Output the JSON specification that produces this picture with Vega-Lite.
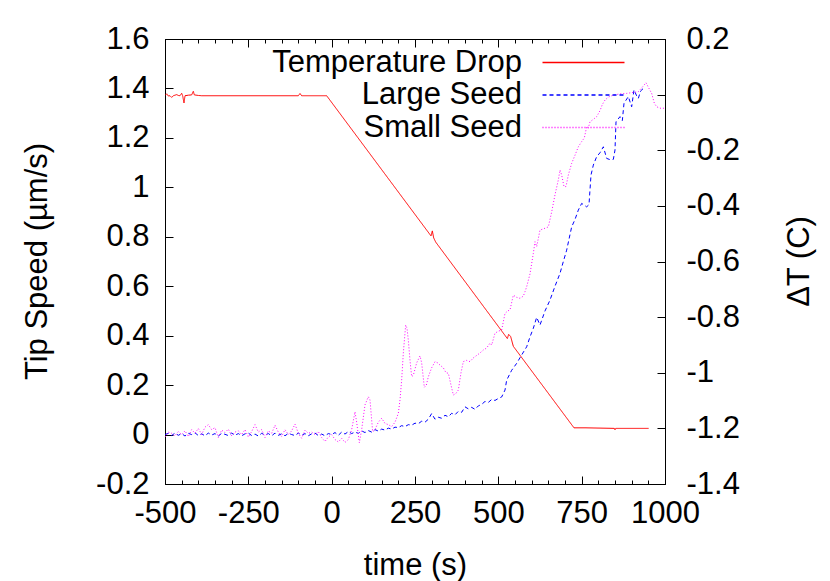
{
  "$schema": "https://vega.github.io/schema/vega-lite/v6.json",
  "width": 500,
  "height": 445,
  "autosize": {"type": "none"},
  "padding": {"left": 165, "top": 39, "right": 165, "bottom": 97},
  "background": "white",
  "config": {
    "font": "Liberation Sans",
    "view": {"stroke": "black", "strokeWidth": 1},
    "axis": {
      "grid": false,
      "domainColor": "black",
      "domainWidth": 1,
      "tickColor": "black",
      "tickWidth": 1,
      "labelFont": "Liberation Sans",
      "labelFontSize": 31,
      "labelColor": "black",
      "titleFont": "Liberation Sans",
      "titleFontSize": 31,
      "titleFontWeight": "normal",
      "titleColor": "black",
      "labelOverlap": false,
      "labelFlush": false,
      "labelBound": false
    },
    "legend": {
      "orient": "none",
      "legendX": 403,
      "legendY": 8,
      "padding": 0,
      "symbolType": "M-10,0H10",
      "symbolSize": 67.24,
      "symbolStrokeWidth": 1.5,
      "symbolOpacity": 1,
      "labelFont": "Liberation Sans",
      "labelFontSize": 31,
      "labelColor": "black",
      "labelAlign": "right",
      "labelOffset": -77,
      "labelLimit": 400,
      "rowPadding": 0.5,
      "title": null
    }
  },
  "datasets": {
    "seeds": [
      {"series": "Large Seed", "t": -500, "v": 0.0},
      {"series": "Large Seed", "t": -490, "v": 0.005},
      {"series": "Large Seed", "t": -480, "v": -0.004},
      {"series": "Large Seed", "t": -470, "v": 0.006},
      {"series": "Large Seed", "t": -460, "v": -0.003},
      {"series": "Large Seed", "t": -450, "v": 0.004},
      {"series": "Large Seed", "t": -440, "v": -0.006},
      {"series": "Large Seed", "t": -430, "v": 0.005},
      {"series": "Large Seed", "t": -420, "v": 0.0},
      {"series": "Large Seed", "t": -410, "v": 0.007},
      {"series": "Large Seed", "t": -400, "v": -0.004},
      {"series": "Large Seed", "t": -390, "v": 0.003},
      {"series": "Large Seed", "t": -380, "v": -0.005},
      {"series": "Large Seed", "t": -370, "v": 0.006},
      {"series": "Large Seed", "t": -360, "v": -0.002},
      {"series": "Large Seed", "t": -350, "v": 0.004},
      {"series": "Large Seed", "t": -340, "v": -0.006},
      {"series": "Large Seed", "t": -330, "v": 0.005},
      {"series": "Large Seed", "t": -320, "v": 0.001},
      {"series": "Large Seed", "t": -310, "v": -0.004},
      {"series": "Large Seed", "t": -300, "v": 0.006},
      {"series": "Large Seed", "t": -290, "v": -0.003},
      {"series": "Large Seed", "t": -280, "v": 0.004},
      {"series": "Large Seed", "t": -270, "v": -0.005},
      {"series": "Large Seed", "t": -260, "v": 0.003},
      {"series": "Large Seed", "t": -250, "v": 0.006},
      {"series": "Large Seed", "t": -240, "v": -0.004},
      {"series": "Large Seed", "t": -230, "v": 0.002},
      {"series": "Large Seed", "t": -220, "v": -0.006},
      {"series": "Large Seed", "t": -210, "v": 0.005},
      {"series": "Large Seed", "t": -200, "v": -0.002},
      {"series": "Large Seed", "t": -190, "v": 0.004},
      {"series": "Large Seed", "t": -180, "v": -0.005},
      {"series": "Large Seed", "t": -170, "v": 0.006},
      {"series": "Large Seed", "t": -160, "v": -0.003},
      {"series": "Large Seed", "t": -150, "v": 0.003},
      {"series": "Large Seed", "t": -140, "v": -0.005},
      {"series": "Large Seed", "t": -130, "v": 0.005},
      {"series": "Large Seed", "t": -120, "v": 0.0},
      {"series": "Large Seed", "t": -110, "v": -0.004},
      {"series": "Large Seed", "t": -100, "v": 0.006},
      {"series": "Large Seed", "t": -90, "v": -0.003},
      {"series": "Large Seed", "t": -80, "v": 0.004},
      {"series": "Large Seed", "t": -70, "v": -0.005},
      {"series": "Large Seed", "t": -60, "v": 0.003},
      {"series": "Large Seed", "t": -50, "v": 0.006},
      {"series": "Large Seed", "t": -40, "v": -0.004},
      {"series": "Large Seed", "t": -30, "v": 0.002},
      {"series": "Large Seed", "t": -20, "v": -0.005},
      {"series": "Large Seed", "t": -10, "v": 0.004},
      {"series": "Large Seed", "t": 0, "v": 0.0},
      {"series": "Large Seed", "t": 10, "v": 0.008},
      {"series": "Large Seed", "t": 20, "v": -0.003},
      {"series": "Large Seed", "t": 30, "v": 0.01},
      {"series": "Large Seed", "t": 40, "v": 0.002},
      {"series": "Large Seed", "t": 50, "v": 0.012},
      {"series": "Large Seed", "t": 60, "v": 0.004},
      {"series": "Large Seed", "t": 70, "v": 0.01},
      {"series": "Large Seed", "t": 80, "v": 0.005},
      {"series": "Large Seed", "t": 90, "v": 0.015},
      {"series": "Large Seed", "t": 100, "v": 0.008},
      {"series": "Large Seed", "t": 110, "v": 0.016},
      {"series": "Large Seed", "t": 120, "v": 0.01},
      {"series": "Large Seed", "t": 130, "v": 0.02},
      {"series": "Large Seed", "t": 140, "v": 0.014},
      {"series": "Large Seed", "t": 150, "v": 0.022},
      {"series": "Large Seed", "t": 160, "v": 0.018},
      {"series": "Large Seed", "t": 170, "v": 0.026},
      {"series": "Large Seed", "t": 180, "v": 0.022},
      {"series": "Large Seed", "t": 190, "v": 0.03},
      {"series": "Large Seed", "t": 200, "v": 0.028},
      {"series": "Large Seed", "t": 210, "v": 0.036},
      {"series": "Large Seed", "t": 220, "v": 0.032},
      {"series": "Large Seed", "t": 230, "v": 0.04},
      {"series": "Large Seed", "t": 240, "v": 0.038},
      {"series": "Large Seed", "t": 250, "v": 0.046},
      {"series": "Large Seed", "t": 260, "v": 0.044},
      {"series": "Large Seed", "t": 270, "v": 0.054},
      {"series": "Large Seed", "t": 280, "v": 0.05},
      {"series": "Large Seed", "t": 290, "v": 0.062},
      {"series": "Large Seed", "t": 300, "v": 0.085},
      {"series": "Large Seed", "t": 310, "v": 0.062},
      {"series": "Large Seed", "t": 320, "v": 0.07},
      {"series": "Large Seed", "t": 330, "v": 0.066},
      {"series": "Large Seed", "t": 340, "v": 0.078},
      {"series": "Large Seed", "t": 350, "v": 0.072},
      {"series": "Large Seed", "t": 360, "v": 0.086},
      {"series": "Large Seed", "t": 370, "v": 0.08},
      {"series": "Large Seed", "t": 380, "v": 0.094},
      {"series": "Large Seed", "t": 390, "v": 0.09},
      {"series": "Large Seed", "t": 400, "v": 0.112},
      {"series": "Large Seed", "t": 410, "v": 0.104},
      {"series": "Large Seed", "t": 420, "v": 0.11},
      {"series": "Large Seed", "t": 430, "v": 0.102},
      {"series": "Large Seed", "t": 440, "v": 0.116},
      {"series": "Large Seed", "t": 450, "v": 0.122},
      {"series": "Large Seed", "t": 460, "v": 0.134},
      {"series": "Large Seed", "t": 470, "v": 0.13},
      {"series": "Large Seed", "t": 480, "v": 0.142},
      {"series": "Large Seed", "t": 490, "v": 0.138},
      {"series": "Large Seed", "t": 500, "v": 0.146},
      {"series": "Large Seed", "t": 510, "v": 0.152},
      {"series": "Large Seed", "t": 520, "v": 0.18},
      {"series": "Large Seed", "t": 525, "v": 0.22},
      {"series": "Large Seed", "t": 540, "v": 0.26},
      {"series": "Large Seed", "t": 555, "v": 0.288},
      {"series": "Large Seed", "t": 570, "v": 0.322},
      {"series": "Large Seed", "t": 585, "v": 0.355},
      {"series": "Large Seed", "t": 595, "v": 0.395},
      {"series": "Large Seed", "t": 605, "v": 0.43},
      {"series": "Large Seed", "t": 615, "v": 0.474},
      {"series": "Large Seed", "t": 625, "v": 0.443},
      {"series": "Large Seed", "t": 640, "v": 0.5},
      {"series": "Large Seed", "t": 655, "v": 0.544},
      {"series": "Large Seed", "t": 670, "v": 0.6},
      {"series": "Large Seed", "t": 685, "v": 0.652},
      {"series": "Large Seed", "t": 695, "v": 0.7},
      {"series": "Large Seed", "t": 705, "v": 0.746},
      {"series": "Large Seed", "t": 712, "v": 0.79},
      {"series": "Large Seed", "t": 720, "v": 0.84},
      {"series": "Large Seed", "t": 730, "v": 0.87},
      {"series": "Large Seed", "t": 740, "v": 0.908},
      {"series": "Large Seed", "t": 750, "v": 0.935},
      {"series": "Large Seed", "t": 765, "v": 0.921},
      {"series": "Large Seed", "t": 772, "v": 0.93},
      {"series": "Large Seed", "t": 778, "v": 1.05},
      {"series": "Large Seed", "t": 785, "v": 1.09},
      {"series": "Large Seed", "t": 795, "v": 1.124},
      {"series": "Large Seed", "t": 805, "v": 1.14},
      {"series": "Large Seed", "t": 815, "v": 1.164},
      {"series": "Large Seed", "t": 825, "v": 1.117},
      {"series": "Large Seed", "t": 835, "v": 1.112},
      {"series": "Large Seed", "t": 845, "v": 1.113},
      {"series": "Large Seed", "t": 850, "v": 1.151},
      {"series": "Large Seed", "t": 853, "v": 1.265},
      {"series": "Large Seed", "t": 865, "v": 1.286},
      {"series": "Large Seed", "t": 872, "v": 1.27},
      {"series": "Large Seed", "t": 877, "v": 1.34},
      {"series": "Large Seed", "t": 890, "v": 1.367},
      {"series": "Large Seed", "t": 900, "v": 1.326},
      {"series": "Large Seed", "t": 907, "v": 1.394},
      {"series": "Large Seed", "t": 915, "v": 1.37},
      {"series": "Large Seed", "t": 920, "v": 1.36},
      {"series": "Large Seed", "t": 927, "v": 1.39},
      {"series": "Large Seed", "t": 935, "v": 1.4},
      {"series": "Small Seed", "t": -500, "v": -0.01},
      {"series": "Small Seed", "t": -490, "v": 0.01},
      {"series": "Small Seed", "t": -480, "v": 0.005},
      {"series": "Small Seed", "t": -470, "v": -0.005},
      {"series": "Small Seed", "t": -460, "v": 0.012},
      {"series": "Small Seed", "t": -450, "v": 0.0},
      {"series": "Small Seed", "t": -440, "v": 0.015},
      {"series": "Small Seed", "t": -430, "v": -0.008},
      {"series": "Small Seed", "t": -420, "v": 0.02},
      {"series": "Small Seed", "t": -410, "v": 0.005},
      {"series": "Small Seed", "t": -400, "v": 0.025},
      {"series": "Small Seed", "t": -390, "v": 0.0},
      {"series": "Small Seed", "t": -380, "v": 0.03},
      {"series": "Small Seed", "t": -370, "v": 0.04},
      {"series": "Small Seed", "t": -360, "v": 0.02},
      {"series": "Small Seed", "t": -350, "v": 0.028},
      {"series": "Small Seed", "t": -340, "v": -0.012},
      {"series": "Small Seed", "t": -330, "v": 0.018},
      {"series": "Small Seed", "t": -320, "v": 0.008},
      {"series": "Small Seed", "t": -310, "v": 0.022},
      {"series": "Small Seed", "t": -300, "v": -0.005},
      {"series": "Small Seed", "t": -290, "v": 0.01},
      {"series": "Small Seed", "t": -280, "v": 0.015},
      {"series": "Small Seed", "t": -270, "v": 0.0},
      {"series": "Small Seed", "t": -260, "v": 0.02},
      {"series": "Small Seed", "t": -250, "v": -0.01},
      {"series": "Small Seed", "t": -240, "v": 0.012},
      {"series": "Small Seed", "t": -230, "v": 0.04},
      {"series": "Small Seed", "t": -220, "v": 0.01},
      {"series": "Small Seed", "t": -210, "v": 0.02},
      {"series": "Small Seed", "t": -200, "v": -0.012},
      {"series": "Small Seed", "t": -190, "v": 0.015},
      {"series": "Small Seed", "t": -180, "v": 0.005},
      {"series": "Small Seed", "t": -170, "v": 0.038},
      {"series": "Small Seed", "t": -160, "v": 0.01},
      {"series": "Small Seed", "t": -150, "v": -0.008},
      {"series": "Small Seed", "t": -140, "v": 0.02},
      {"series": "Small Seed", "t": -130, "v": 0.0},
      {"series": "Small Seed", "t": -120, "v": 0.015},
      {"series": "Small Seed", "t": -110, "v": 0.042},
      {"series": "Small Seed", "t": -100, "v": 0.005},
      {"series": "Small Seed", "t": -90, "v": -0.015},
      {"series": "Small Seed", "t": -80, "v": 0.018},
      {"series": "Small Seed", "t": -70, "v": 0.005},
      {"series": "Small Seed", "t": -60, "v": 0.01},
      {"series": "Small Seed", "t": -50, "v": 0.0},
      {"series": "Small Seed", "t": -40, "v": 0.012},
      {"series": "Small Seed", "t": -30, "v": -0.012},
      {"series": "Small Seed", "t": -20, "v": -0.028},
      {"series": "Small Seed", "t": -10, "v": -0.01},
      {"series": "Small Seed", "t": 0, "v": 0.0},
      {"series": "Small Seed", "t": 10, "v": -0.02},
      {"series": "Small Seed", "t": 20, "v": -0.03},
      {"series": "Small Seed", "t": 30, "v": -0.015},
      {"series": "Small Seed", "t": 40, "v": -0.032},
      {"series": "Small Seed", "t": 50, "v": -0.02},
      {"series": "Small Seed", "t": 60, "v": 0.02},
      {"series": "Small Seed", "t": 70, "v": 0.092},
      {"series": "Small Seed", "t": 75, "v": 0.05},
      {"series": "Small Seed", "t": 83, "v": -0.033},
      {"series": "Small Seed", "t": 90, "v": 0.02},
      {"series": "Small Seed", "t": 100, "v": 0.12},
      {"series": "Small Seed", "t": 110, "v": 0.153},
      {"series": "Small Seed", "t": 115, "v": 0.14},
      {"series": "Small Seed", "t": 123, "v": 0.011},
      {"series": "Small Seed", "t": 130, "v": 0.02},
      {"series": "Small Seed", "t": 140, "v": 0.05},
      {"series": "Small Seed", "t": 150, "v": 0.066},
      {"series": "Small Seed", "t": 160, "v": 0.045},
      {"series": "Small Seed", "t": 170, "v": 0.04},
      {"series": "Small Seed", "t": 180, "v": 0.032},
      {"series": "Small Seed", "t": 190, "v": 0.05},
      {"series": "Small Seed", "t": 200, "v": 0.086},
      {"series": "Small Seed", "t": 205, "v": 0.14},
      {"series": "Small Seed", "t": 210, "v": 0.221},
      {"series": "Small Seed", "t": 215, "v": 0.33},
      {"series": "Small Seed", "t": 222, "v": 0.443},
      {"series": "Small Seed", "t": 226, "v": 0.43},
      {"series": "Small Seed", "t": 230, "v": 0.382},
      {"series": "Small Seed", "t": 235, "v": 0.3},
      {"series": "Small Seed", "t": 240, "v": 0.234},
      {"series": "Small Seed", "t": 245, "v": 0.24},
      {"series": "Small Seed", "t": 255, "v": 0.29},
      {"series": "Small Seed", "t": 265, "v": 0.318},
      {"series": "Small Seed", "t": 270, "v": 0.29},
      {"series": "Small Seed", "t": 278, "v": 0.191},
      {"series": "Small Seed", "t": 284, "v": 0.2},
      {"series": "Small Seed", "t": 290, "v": 0.234},
      {"series": "Small Seed", "t": 300, "v": 0.27},
      {"series": "Small Seed", "t": 310, "v": 0.295},
      {"series": "Small Seed", "t": 318, "v": 0.29},
      {"series": "Small Seed", "t": 325, "v": 0.281},
      {"series": "Small Seed", "t": 335, "v": 0.27},
      {"series": "Small Seed", "t": 343, "v": 0.25},
      {"series": "Small Seed", "t": 350, "v": 0.248},
      {"series": "Small Seed", "t": 358, "v": 0.2},
      {"series": "Small Seed", "t": 365, "v": 0.16},
      {"series": "Small Seed", "t": 372, "v": 0.165},
      {"series": "Small Seed", "t": 380, "v": 0.18},
      {"series": "Small Seed", "t": 388, "v": 0.25},
      {"series": "Small Seed", "t": 395, "v": 0.295},
      {"series": "Small Seed", "t": 405, "v": 0.3},
      {"series": "Small Seed", "t": 415, "v": 0.295},
      {"series": "Small Seed", "t": 425, "v": 0.31},
      {"series": "Small Seed", "t": 435, "v": 0.32},
      {"series": "Small Seed", "t": 445, "v": 0.33},
      {"series": "Small Seed", "t": 455, "v": 0.342},
      {"series": "Small Seed", "t": 465, "v": 0.35},
      {"series": "Small Seed", "t": 475, "v": 0.37},
      {"series": "Small Seed", "t": 480, "v": 0.362},
      {"series": "Small Seed", "t": 490, "v": 0.41},
      {"series": "Small Seed", "t": 500, "v": 0.418},
      {"series": "Small Seed", "t": 510, "v": 0.423},
      {"series": "Small Seed", "t": 520, "v": 0.49},
      {"series": "Small Seed", "t": 528, "v": 0.5},
      {"series": "Small Seed", "t": 535, "v": 0.504},
      {"series": "Small Seed", "t": 545, "v": 0.564},
      {"series": "Small Seed", "t": 555, "v": 0.555},
      {"series": "Small Seed", "t": 565, "v": 0.551},
      {"series": "Small Seed", "t": 575, "v": 0.56},
      {"series": "Small Seed", "t": 580, "v": 0.578},
      {"series": "Small Seed", "t": 585, "v": 0.598},
      {"series": "Small Seed", "t": 595, "v": 0.65},
      {"series": "Small Seed", "t": 605, "v": 0.733},
      {"series": "Small Seed", "t": 610, "v": 0.78},
      {"series": "Small Seed", "t": 615, "v": 0.76},
      {"series": "Small Seed", "t": 625, "v": 0.827},
      {"series": "Small Seed", "t": 635, "v": 0.832},
      {"series": "Small Seed", "t": 650, "v": 0.84},
      {"series": "Small Seed", "t": 660, "v": 0.9},
      {"series": "Small Seed", "t": 670, "v": 0.97},
      {"series": "Small Seed", "t": 680, "v": 1.03},
      {"series": "Small Seed", "t": 685, "v": 1.07},
      {"series": "Small Seed", "t": 690, "v": 1.05},
      {"series": "Small Seed", "t": 697, "v": 1.003},
      {"series": "Small Seed", "t": 703, "v": 1.003},
      {"series": "Small Seed", "t": 710, "v": 1.05},
      {"series": "Small Seed", "t": 720, "v": 1.097},
      {"series": "Small Seed", "t": 730, "v": 1.13},
      {"series": "Small Seed", "t": 740, "v": 1.164},
      {"series": "Small Seed", "t": 750, "v": 1.185},
      {"series": "Small Seed", "t": 758, "v": 1.2},
      {"series": "Small Seed", "t": 765, "v": 1.245},
      {"series": "Small Seed", "t": 770, "v": 1.24},
      {"series": "Small Seed", "t": 775, "v": 1.265},
      {"series": "Small Seed", "t": 785, "v": 1.275},
      {"series": "Small Seed", "t": 795, "v": 1.286},
      {"series": "Small Seed", "t": 805, "v": 1.31},
      {"series": "Small Seed", "t": 812, "v": 1.335},
      {"series": "Small Seed", "t": 820, "v": 1.353},
      {"series": "Small Seed", "t": 830, "v": 1.365},
      {"series": "Small Seed", "t": 845, "v": 1.373},
      {"series": "Small Seed", "t": 865, "v": 1.378},
      {"series": "Small Seed", "t": 885, "v": 1.38},
      {"series": "Small Seed", "t": 900, "v": 1.383},
      {"series": "Small Seed", "t": 920, "v": 1.387},
      {"series": "Small Seed", "t": 935, "v": 1.41},
      {"series": "Small Seed", "t": 943, "v": 1.423},
      {"series": "Small Seed", "t": 950, "v": 1.405},
      {"series": "Small Seed", "t": 960, "v": 1.38},
      {"series": "Small Seed", "t": 968, "v": 1.34},
      {"series": "Small Seed", "t": 975, "v": 1.326},
      {"series": "Small Seed", "t": 985, "v": 1.32},
      {"series": "Small Seed", "t": 1000, "v": 1.32}
    ],
    "temp": [
      {"series": "Temperature Drop", "t": -500, "dT": -0.003},
      {"series": "Temperature Drop", "t": -495, "dT": 0.003},
      {"series": "Temperature Drop", "t": -490, "dT": -0.005},
      {"series": "Temperature Drop", "t": -485, "dT": -0.004},
      {"series": "Temperature Drop", "t": -480, "dT": -0.01},
      {"series": "Temperature Drop", "t": -475, "dT": -0.004},
      {"series": "Temperature Drop", "t": -470, "dT": -0.002},
      {"series": "Temperature Drop", "t": -465, "dT": 0.0},
      {"series": "Temperature Drop", "t": -460, "dT": -0.003},
      {"series": "Temperature Drop", "t": -455, "dT": -0.004},
      {"series": "Temperature Drop", "t": -450, "dT": 0.005},
      {"series": "Temperature Drop", "t": -447, "dT": -0.004},
      {"series": "Temperature Drop", "t": -443, "dT": -0.03},
      {"series": "Temperature Drop", "t": -440, "dT": -0.004},
      {"series": "Temperature Drop", "t": -430, "dT": -0.002},
      {"series": "Temperature Drop", "t": -420, "dT": -0.001},
      {"series": "Temperature Drop", "t": -415, "dT": 0.012},
      {"series": "Temperature Drop", "t": -412, "dT": -0.001},
      {"series": "Temperature Drop", "t": -400, "dT": -0.003},
      {"series": "Temperature Drop", "t": -390, "dT": -0.004},
      {"series": "Temperature Drop", "t": -100, "dT": -0.004},
      {"series": "Temperature Drop", "t": -95, "dT": 0.004},
      {"series": "Temperature Drop", "t": -90, "dT": -0.004},
      {"series": "Temperature Drop", "t": -15, "dT": -0.004},
      {"series": "Temperature Drop", "t": 298, "dT": -0.508},
      {"series": "Temperature Drop", "t": 302, "dT": -0.49},
      {"series": "Temperature Drop", "t": 306, "dT": -0.515},
      {"series": "Temperature Drop", "t": 312, "dT": -0.53},
      {"series": "Temperature Drop", "t": 527, "dT": -0.877},
      {"series": "Temperature Drop", "t": 531, "dT": -0.862},
      {"series": "Temperature Drop", "t": 537, "dT": -0.87},
      {"series": "Temperature Drop", "t": 545, "dT": -0.905},
      {"series": "Temperature Drop", "t": 727, "dT": -1.198},
      {"series": "Temperature Drop", "t": 760, "dT": -1.198},
      {"series": "Temperature Drop", "t": 848, "dT": -1.2},
      {"series": "Temperature Drop", "t": 850, "dT": -1.205},
      {"series": "Temperature Drop", "t": 852, "dT": -1.2},
      {"series": "Temperature Drop", "t": 951, "dT": -1.2}
    ]
  },
  "layer": [
    {
      "data": {"name": "seeds"},
      "mark": {"type": "line", "strokeWidth": 1, "clip": true},
      "encoding": {
        "x": {
          "field": "t", "type": "quantitative",
          "scale": {"domain": [-500, 1000], "nice": false, "zero": false},
          "axis": {
            "orient": "bottom",
            "title": "time (s)",
            "values": [-500,-450,-400,-350,-300,-250,-200,-150,-100,-50,0,50,100,150,200,250,300,350,400,450,500,550,600,650,700,750,800,850,900,950,1000],
            "tickSize": {"condition": {"test": "datum.value % 250 === 0", "value": -8}, "value": -4},
            "labelExpr": "datum.value % 250 === 0 ? toString(datum.value) : ''",
            "labelPadding": 22,
            "titleX": 250,
            "titleY": 81,
            "titleBaseline": "middle"
          }
        },
        "y": {
          "field": "v", "type": "quantitative",
          "scale": {"domain": [-0.2, 1.6], "nice": false, "zero": false},
          "axis": {
            "orient": "left",
            "title": "Tip Speed (µm/s)",
            "values": [-0.2, 0, 0.2, 0.4, 0.6, 0.8, 1, 1.2, 1.4, 1.6],
            "tickSize": -8,
            "labelExpr": "toString(round(datum.value * 10) / 10)",
            "labelPadding": 24,
            "labelBaseline": "middle",
            "titleAngle": 270,
            "titleX": -128,
            "titleY": 222,
            "titleAlign": "center",
            "titleBaseline": "middle"
          }
        },
        "color": {
          "field": "series", "type": "nominal",
          "scale": {"domain": ["Temperature Drop", "Large Seed", "Small Seed"], "range": ["#ff0000", "#0000ff", "#ff00ff"]}
        },
        "strokeDash": {
          "field": "series", "type": "nominal",
          "scale": {"domain": ["Temperature Drop", "Large Seed", "Small Seed"], "range": [[1, 0], [4, 3], [1, 2]]}
        }
      }
    },
    {
      "data": {"name": "temp"},
      "mark": {"type": "line", "strokeWidth": 1, "clip": true},
      "encoding": {
        "x": {
          "field": "t", "type": "quantitative",
          "scale": {"domain": [-500, 1000], "nice": false, "zero": false},
          "axis": {
            "orient": "top",
            "title": null,
            "values": [-500,-450,-400,-350,-300,-250,-200,-150,-100,-50,0,50,100,150,200,250,300,350,400,450,500,550,600,650,700,750,800,850,900,950,1000],
            "tickSize": {"condition": {"test": "datum.value % 250 === 0", "value": -8}, "value": -4},
            "labels": false
          }
        },
        "y": {
          "field": "dT", "type": "quantitative",
          "scale": {"domain": [-1.4, 0.2], "nice": false, "zero": false},
          "axis": {
            "orient": "right",
            "title": "ΔT (C)",
            "values": [-1.4, -1.2, -1, -0.8, -0.6, -0.4, -0.2, 0, 0.2],
            "tickSize": -8,
            "labelExpr": "toString(round(datum.value * 10) / 10)",
            "labelPadding": 29,
            "labelBaseline": "middle",
            "titleAngle": 270,
            "titleX": 134,
            "titleY": 222,
            "titleAlign": "center",
            "titleBaseline": "middle"
          }
        },
        "color": {
          "field": "series", "type": "nominal",
          "scale": {"domain": ["Temperature Drop", "Large Seed", "Small Seed"], "range": ["#ff0000", "#0000ff", "#ff00ff"]}
        },
        "strokeDash": {
          "field": "series", "type": "nominal",
          "scale": {"domain": ["Temperature Drop", "Large Seed", "Small Seed"], "range": [[1, 0], [4, 3], [1, 2]]}
        }
      }
    }
  ],
  "resolve": {"scale": {"y": "independent"}, "axis": {"x": "independent"}}
}
